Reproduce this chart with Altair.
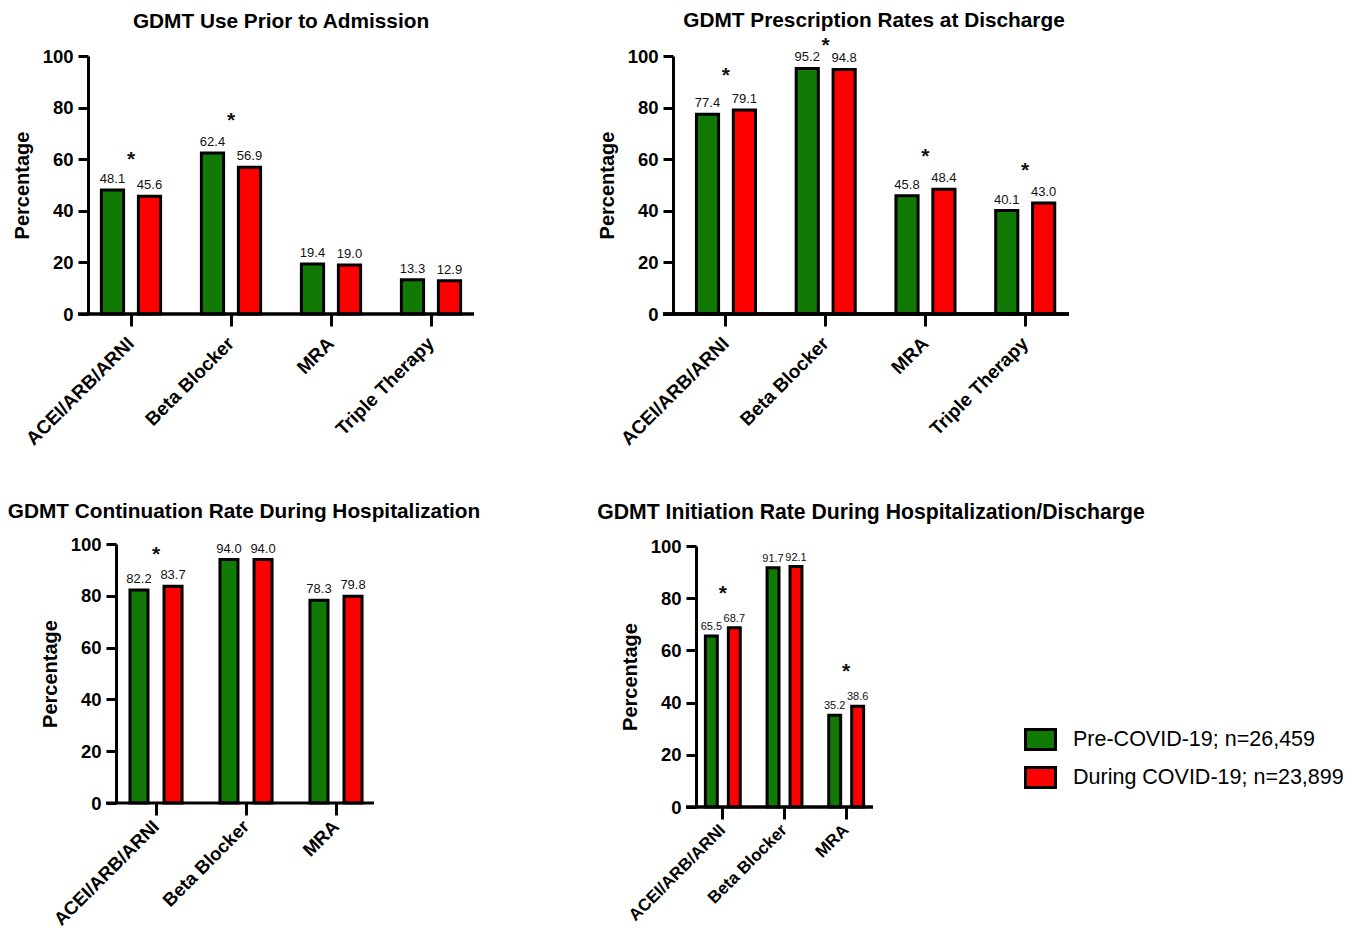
import altair as alt
import pandas as pd

FONT = "Liberation Sans"

groups = ["Pre-COVID-19; n=26,459", "During COVID-19; n=23,899"]
colors = ["#117A05", "#FF0000"]

cats_four = ["ACEI/ARB/ARNI", "Beta Blocker", "MRA", "Triple Therapy"]
cats_three = ["ACEI/ARB/ARNI", "Beta Blocker", "MRA"]

# Panel 1: GDMT Use Prior to Admission
title_1 = "GDMT Use Prior to Admission"
pre_1 = [48.1, 62.4, 19.4, 13.3]
during_1 = [45.6, 56.9, 19.0, 12.9]
star_cats_1 = ["ACEI/ARB/ARNI", "Beta Blocker"]
star_y_1 = [60.7, 75.8]

# Panel 2: GDMT Prescription Rates at Discharge
title_2 = "GDMT Prescription Rates at Discharge"
pre_2 = [77.4, 95.2, 45.8, 40.1]
during_2 = [79.1, 94.8, 48.4, 43.0]
star_cats_2 = ["ACEI/ARB/ARNI", "Beta Blocker", "MRA", "Triple Therapy"]
star_y_2 = [93.4, 105.0, 62.0, 56.7]

# Panel 3: GDMT Continuation Rate During Hospitalization
title_3 = "GDMT Continuation Rate During Hospitalization"
pre_3 = [82.2, 94.0, 78.3]
during_3 = [83.7, 94.0, 79.8]
star_cats_3 = ["ACEI/ARB/ARNI"]
star_y_3 = [97.1]

# Panel 4: GDMT Initiation Rate During Hospitalization/Discharge
title_4 = "GDMT Initiation Rate During Hospitalization/Discharge"
pre_4 = [65.5, 91.7, 35.2]
during_4 = [68.7, 92.1, 38.6]
star_cats_4 = ["ACEI/ARB/ARNI", "MRA"]
star_y_4 = [82.8, 52.9]

y_ticks = [0, 20, 40, 60, 80, 100]


def panel(title, cats, pre, dur, star_cats, star_y, w, h,
          pin, pout, align, opin, opout, vsize, title_offset,
          title_dx=0, shift=0, xlab_size=19, xlab_pad=14, title_size=20.8):
    df = pd.DataFrame({
        "cat": cats * 2,
        "group": [groups[0]] * len(cats) + [groups[1]] * len(cats),
        "value": pre + dur,
    })
    sdf = pd.DataFrame({"cat": star_cats, "value": star_y})

    xscale = alt.Scale(domain=cats, paddingInner=pin, paddingOuter=pout, align=align)
    x = alt.X("cat:N", scale=xscale, axis=alt.Axis(
        title=None, domain=False, labelAngle=-45, labelFontSize=xlab_size,
        labelFontWeight="bold", labelFont=FONT, tickSize=12, labelPadding=xlab_pad,
        labelBaseline="middle", labelColor="black"))
    xo = alt.XOffset("group:N", scale=alt.Scale(domain=groups, paddingInner=opin, paddingOuter=opout))
    yaxis_kw = dict(
        title="Percentage", values=y_ticks, grid=False, labelFontSize=18.5,
        labelFontWeight="bold", labelFont=FONT, tickSize=10, labelPadding=5,
        titleFontSize=20, titleFontWeight="bold", titleFont=FONT, titlePadding=10,
        labelColor="black", titleColor="black")
    if shift:
        yaxis_kw["offset"] = -shift
    y = alt.Y("value:Q", scale=alt.Scale(domain=[0, 100], nice=False),
              axis=alt.Axis(**yaxis_kw))

    bars = alt.Chart(df).mark_bar(stroke="black", strokeWidth=3).encode(
        x=x, xOffset=xo, y=y,
        color=alt.Color("group:N", scale=alt.Scale(domain=groups, range=colors),
                        legend=alt.Legend(title=None)),
    )
    labels = alt.Chart(df).mark_text(baseline="bottom", dy=-4, fontSize=vsize,
                                     font=FONT, color="#111").encode(
        x=alt.X("cat:N", scale=xscale), xOffset=alt.XOffset("group:N"),
        y=alt.Y("value:Q"), text=alt.Text("value:Q", format=".1f"))
    stars = alt.Chart(sdf).mark_text(text="*", fontSize=21, fontWeight="bold",
                                     font=FONT, baseline="middle", dy=3, color="#111").encode(
        x=alt.X("cat:N", scale=xscale), y=alt.Y("value:Q"))
    base = alt.Chart(sdf).mark_rule(color="black", strokeWidth=3).encode(
        x=alt.value(shift - 10), x2=alt.value(w), y=alt.datum(0))

    return alt.layer(bars, labels, stars, base).properties(
        width=w, height=h,
        title=alt.TitleParams(title, fontSize=title_size, fontWeight="bold", font=FONT,
                              anchor="middle", frame="group", offset=title_offset,
                              dx=title_dx, color="black"),
    )


p1 = panel(title_1, cats_four, pre_1, during_1, star_cats_1, star_y_1, 386, 258,
           0.26, 0.06, 0.5, 0.4, 0.2, 13, 14)
p2 = panel(title_2, cats_four, pre_2, during_2, star_cats_2, star_y_2, 396, 258,
           0.26, 0.115, 0.7, 0.4, 0.2, 13, 3, title_dx=3)
p3 = panel(title_3, cats_three, pre_3, during_3, star_cats_3, star_y_3, 286, 259,
           0.3, 0.2389, 0.849, 0.47, 0.16, 13, 12, title_dx=13, shift=28,
           xlab_size=18.5, xlab_pad=8)
p4 = panel(title_4, cats_three, pre_4, during_4, star_cats_4, star_y_4, 177, 261,
           0.3, 0.085, 0.5, 0.48, 0.18, 11, 14, title_dx=86.5,
           xlab_size=17, xlab_pad=8, title_size=21.2)

chart = alt.concat(
    p1, p2, p3, p4, columns=2, align="none",
    spacing={"row": 52, "column": 116},
).resolve_scale(x="independent", xOffset="independent").properties(
    padding={"left": -1, "top": 2, "right": 5, "bottom": 0}
).configure_view(
    stroke=None
).configure_axis(
    domainColor="black", domainWidth=3, tickColor="black", tickWidth=3
).configure_legend(
    orient="none", legendX=936, legendY=667,
    labelFont=FONT, labelFontSize=21.5, labelColor="black", labelLimit=0,
    symbolType="M-1,-0.667H1V0.667H-1Z", symbolSize=900,
    symbolStrokeColor="black", symbolStrokeWidth=3, symbolOpacity=1,
    rowPadding=5, labelOffset=16,
)

chart.save("out.html", embed_options={"renderer": "svg", "actions": False})
